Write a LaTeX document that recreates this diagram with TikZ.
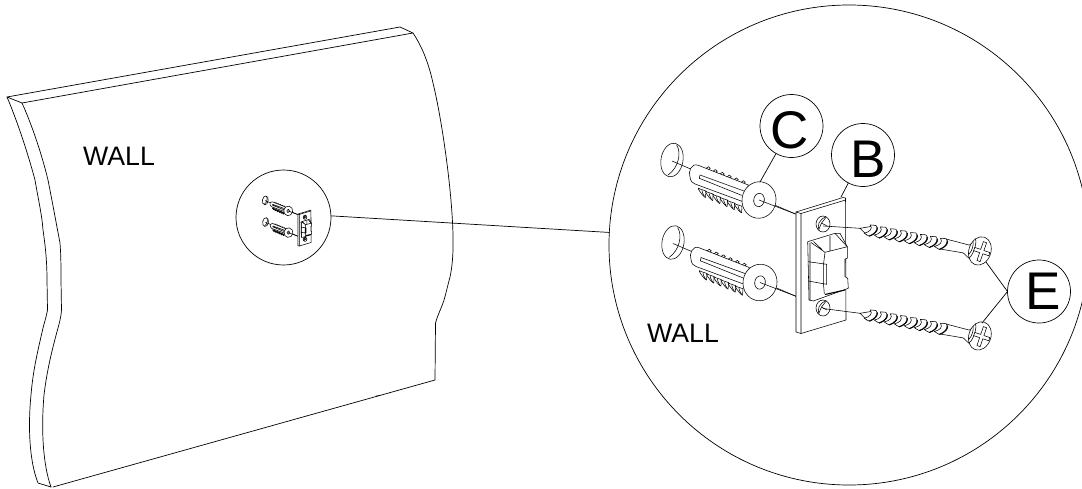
\documentclass[tikz,border=0pt]{standalone}
\usepackage{fontspec}
\setmainfont{Liberation Sans}
\usetikzlibrary{calc}
\tikzset{
  ln/.style={line width=0.7pt,line join=round,line cap=round},
  fine/.style={line width=0.55pt,line join=round,line cap=round},
  callout/.style={draw,circle,ln,inner sep=0pt,outer sep=0pt,minimum size=63pt,font=\fontsize{53}{53}\selectfont},
  lens/.style={draw,circle,ln,inner sep=0pt,outer sep=0pt},
  walltext/.style={inner sep=0pt,font=\fontsize{26.7}{26.7}\selectfont}
}
\newcommand\callletter[3]{\raisebox{-#2pt}[0pt][0pt]{\makebox[0pt][c]{\kern #1pt #3}}}
\newcommand\plugdraw{%
  \draw[fine,rotate around={-10:(672,160)}] (672,160) ellipse [x radius=11,y radius=17];
  \draw[fine] (676.7,145) .. controls (681.7,153) and (678.3,168) .. (668,175);
  \draw[fine] (672,161) -- (795.5,214);
  \foreach \t in {0,...,5}{
    \path (700+\t*7.2,189+\t*3.05) coordinate (q);
    \draw[fine,fill=white] (q) -- ++(6,2) -- ++(-0.5,6.5) .. controls +(-3,-1) and +(-5,-4) .. (q);
    \draw[fine] ($(q)+(2,1.5)$) .. controls +(0,2) and +(1,3) .. ++(2.2,5);
  }
  \foreach \t in {0,...,5}{
    \draw[fine,fill=white] (708.3+\t*7,168.3+\t*2.8) ++(-2,0) -- ++(2,-1.6) -- ++(2,1.6) -- ++(-2,1.6) -- cycle;
  }
  \draw[fine,fill=white] (748.3,185) -- (698.3,165.3) .. controls (691,162.5) and (688,172) .. (690,177)
     .. controls (690.5,181) and (692,183) .. (695,184) -- (743,201.7) -- cycle;
  \draw[fine] (700,175) -- (744,191) (699.3,178.3) -- (741.7,195.3) (700,175) -- (699.3,178.3);
  \draw[fine,fill=white,rotate around={-10:(759,200)}] (759,200) ellipse [x radius=17,y radius=18.3];
  \draw[fine,rotate around={-10:(759,200)}] (759,200) ellipse [x radius=5.3,y radius=6.7];
  \draw[fine] (759,200) -- (795.5,214);
}
\newcommand\platedraw{%
  \draw[fine,fill=white] (796,212) -- (843,197.5) -- (845.5,198) -- (846,320) -- (801,333.5) -- (796,332) -- cycle;
  \draw[fine] (796,212) -- (801,213.5) -- (845.5,200) (801,213.5) -- (801,333.5);
  \foreach \yy in {224,308}{
    \draw[fine] (823,\yy) ellipse [x radius=7,y radius=8];
    \draw[fine] (825.5,\yy-6) -- (821.5,\yy-1) -- (827,\yy+2) (821.5,\yy-1) -- (819,\yy+5);
    \draw[fine] (826,\yy-7) .. controls (819,\yy-5) and (817,\yy+2) .. (819,\yy+6);
  }
  \draw[fine,fill=white] (807.7,241.7) -- (835,233.3) -- (840,233.3) -- (847.3,246.7) -- (847.3,258.3)
     -- (845,259) -- (845,276.7) -- (847.7,278.3) -- (848.3,288.3) -- (813.3,301) -- (809,300) -- cycle;
  \draw[fine] (811,242.5) -- (825,252.3) -- (847.3,246.7)
    (813.5,241.5) -- (822,249.5)
    (835,233.3) -- (846.5,246) (830,236) -- (830,250.8)
    (825,252.3) -- (823.5,264.3) (823.5,284.3) -- (824.3,293.5)
    (810,243) -- (810,300)
    (808.3,261.7) -- (826.7,264.3) -- (826.7,284.3) -- (808.3,281)
    (823.7,264) -- (823.7,284);
  \draw[line width=1.1pt] (825,294.5) -- (845,290);
}
\newcommand\screwdraw{%
  \draw[fine] (0,0) -- (15,-5.5) (0,0) -- (8,5.5);
  \draw[fine,fill=white] (86,-5.5) -- (110.5,-3.8) -- (116,-9) (81,5.5) -- (106,5) -- (117,12);
  \foreach \t in {0,...,7}{
    \draw[fine,fill=white] (15+\t*10.2,-5.8) .. controls (20.5+\t*10.2,-3) and (16+\t*10.2,3) .. (10.5+\t*10.2,6)
       .. controls (9+\t*10.2,5.5) and (7+\t*10.2,5) .. (5+\t*10.2,4)
       .. controls (10+\t*10.2,2) and (13+\t*10.2,-2) .. (9.5+\t*10.2,-5.2) -- cycle;
    \draw[line width=1.1pt] (16.5+\t*10.2,-4) .. controls (18+\t*10.2,-1) and (15+\t*10.2,3.5) .. (10.5+\t*10.2,6);
  }
  \begin{scope}[shift={(122,0)},rotate=-8]
    \draw[fine,fill=white] (0,0) ellipse [x radius=11,y radius=14.5];
    \draw[fine] (-8,-10) .. controls (-5,-6) and (-5,6) .. (-8,10);
    \draw[fine] (-9.5,-7) .. controls (-7.5,-3) and (-7.5,3) .. (-9.5,7);
    \draw[fine,fill=white,shift={(2,0)}] (-1.7,-10) -- (1.7,-10) -- (1.7,-1.7) -- (8,-1.7) -- (8,1.7) -- (1.7,1.7) -- (1.7,10) -- (-1.7,10) -- (-1.7,1.7) -- (-8,1.7) -- (-8,-1.7) -- (-1.7,-1.7) -- cycle;
  \end{scope}
}
\begin{document}
\begin{tikzpicture}[x=1pt,y=-1pt]
\useasboundingbox (0,0) rectangle (1082,488);
% wall
\draw[ln] (7,97) -- (400,27) -- (413,33) -- (22,103) -- cycle;
\draw[ln] (413,33) .. controls (423,48) and (429,65) .. (433,83)
  .. controls (442,120) and (452,190) .. (453,235)
  .. controls (453.5,255) and (452,268) .. (450,277)
  .. controls (447,288) and (445,298) .. (443,303)
  .. controls (440,311) and (437,317) .. (435.5,323) -- (435,380) -- (53,487);
\draw[ln] (7,97) .. controls (16,118) and (27,150) .. (35,180)
  .. controls (38,198) and (42,215) .. (43,230)
  .. controls (46,250) and (47,265) .. (47,280) -- (47.5,310)
  .. controls (46,318) and (44,324) .. (43,328)
  .. controls (38,350) and (33,370) .. (31,395)
  .. controls (28,425) and (29,460) .. (38,483) -- (51,487);
\draw[ln] (22,103) .. controls (32,125) and (42,155) .. (48,180)
  .. controls (52,200) and (56,222) .. (60,243)
  .. controls (61,255) and (61,268) .. (61,280) -- (61.5,310)
  .. controls (61,318) and (59,324) .. (58,328)
  .. controls (52,350) and (47,370) .. (44,395)
  .. controls (41,430) and (43,465) .. (51,487);
\draw[fine] (376,396) -- (380,395.5);
\node[walltext,anchor=base west] (wall1) at (83,165) {WALL};
\node[walltext,anchor=base west] (wall2) at (647,342) {WALL};
% lenses
\node[lens,minimum size=95pt] (lensS) at (283.5,217.5) {};
\node[lens,minimum size=480pt] (lensB) at (849,245) {};
\draw[ln] (lensS.2) -- (lensB.177);
% big hardware
\plugdraw
\begin{scope}[shift={(1,82.5)}]\plugdraw\end{scope}
\platedraw
\draw[fine] (823.5,226) -- (860,228.3);
\draw[fine] (823,308.5) -- (860,313.3);
\begin{scope}[shift={(860,228.3)},rotate=-10.7]\screwdraw\end{scope}
\begin{scope}[shift={(860,313.3)},rotate=-10.7]\screwdraw\end{scope}
% small hardware
\begin{scope}[shift={(304.5,228)},scale=0.263,shift={(-821,-265)}]
  \plugdraw
  \begin{scope}[shift={(1,82.5)}]\plugdraw\end{scope}
  \platedraw
\end{scope}
% callouts
\node[callout] (callC) at (791.5,126) {\callletter{-3}{22}{C}};
\node[callout] (callB) at (863,155) {\callletter{11}{22}{B}};
\node[callout] (callE) at (1039,291.5) {\callletter{8}{17.5}{E}};
\coordinate (endC) at (760,182);
\coordinate (endB) at (841,197);
\coordinate (endE1) at (986,262);
\coordinate (endE2) at (982,323);
\draw[ln] (callC) -- (endC);
\draw[ln] (callB) -- (endB);
\draw[ln] (callE.180) -- (endE1);
\draw[ln] (callE.180) -- (endE2);
\end{tikzpicture}
\end{document}
